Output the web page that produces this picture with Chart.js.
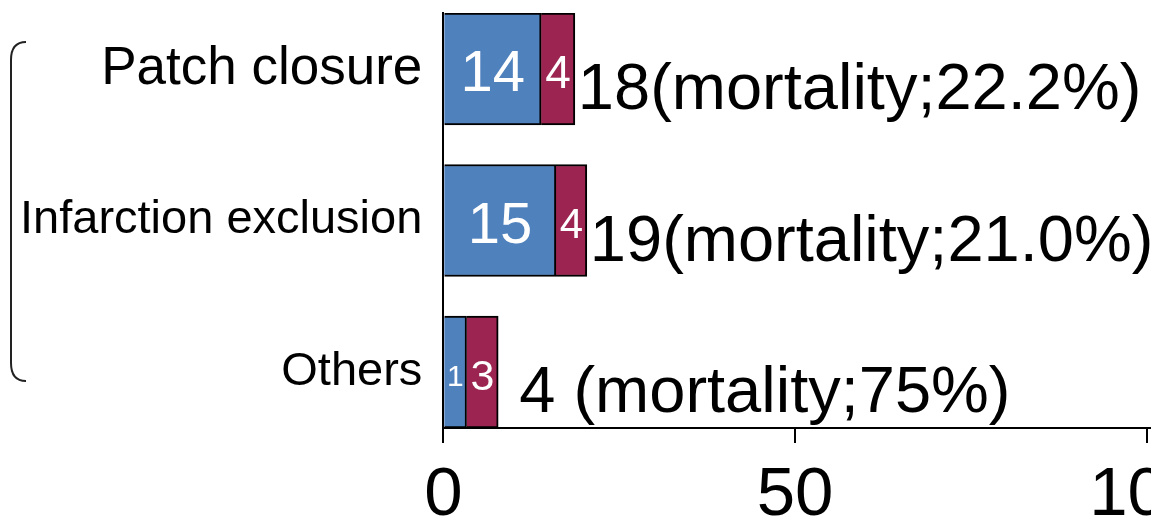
<!DOCTYPE html>
<html>
<head>
<meta charset="utf-8">
<script src="https://cdn.jsdelivr.net/npm/chart.js@4/dist/chart.umd.min.js"></script>
<style>
  html, body { margin: 0; padding: 0; background: #fff; }
  #wrap { width: 1151px; height: 521px; position: relative; }
</style>
</head>
<body>
<div id="wrap"><canvas id="chart"></canvas></div>
<script>
// Rows of the figure, top to bottom
const categories = ['Patch closure', 'Infarction exclusion', 'Others'];

// Counts printed inside the bars
const survivedCounts = [14, 15, 1];
const diedCounts = [4, 4, 3];
const totalLabels = ['18(mortality;22.2%)', '19(mortality;21.0%)', ' 4 (mortality;75%)'];

// Bar lengths as drawn against the 0-100 axis (the figure widens the small bars)
const survivedLengths = [13.9, 16.0, 3.3];
const diedLengths = [4.8, 4.4, 4.5];

const xTicks = [0, 50, 100];

const FONT = "'Liberation Sans', Arial, sans-serif";
const BLUE = '#4F81BD';
const RED = '#9B2451';

// Puts the counts inside the bars and the totals after them
const barLabels = {
  id: 'barLabels',
  afterDatasetsDraw(chart) {
    const ctx = chart.ctx;
    ctx.save();
    ctx.fillStyle = '#fff';
    ctx.textAlign = 'center';
    ctx.textBaseline = 'middle';
    chart.data.datasets.forEach((ds, di) => {
      const meta = chart.getDatasetMeta(di);
      meta.data.forEach((bar, i) => {
        const w = Math.abs(bar.x - bar.base);
        const size = Math.min(58, Math.round(w * 1.35));
        ctx.font = size + 'px ' + FONT;
        ctx.fillText(String(ds.counts[i]), (bar.x + bar.base) / 2, bar.y + 6);
      });
    });
    // totals after the red bars
    const last = chart.getDatasetMeta(1);
    ctx.fillStyle = '#000';
    ctx.textAlign = 'left';
    ctx.textBaseline = 'alphabetic';
    ctx.font = '65px ' + FONT;
    last.data.forEach((bar, i) => {
      ctx.fillText(totalLabels[i], bar.x + 3, bar.y + 40);
    });
    ctx.restore();
  }
};

// Left bracket grouping the three rows
const bracket = {
  id: 'bracket',
  afterDraw(chart) {
    const ys = chart.scales.y;
    const top = ys.getPixelForValue(0) - 27;
    const bottom = ys.getPixelForValue(categories.length - 1) + 9;
    const x0 = 11, x1 = 26;
    const ctx = chart.ctx;
    ctx.save();
    ctx.strokeStyle = '#222';
    ctx.lineWidth = 2;
    ctx.beginPath();
    ctx.moveTo(x1, top);
    ctx.quadraticCurveTo(x0, top, x0, top + 18);
    ctx.lineTo(x0, bottom - 18);
    ctx.quadraticCurveTo(x0, bottom, x1, bottom);
    ctx.stroke();
    ctx.restore();
  }
};

// let the tick labels run off the canvas edge like in the cropped figure
const noEdgePadding = (scale) => {
  scale.paddingLeft = 0;
  scale.paddingRight = 0;
  scale.paddingTop = 0;
  scale.paddingBottom = 0;
};

new Chart(document.getElementById('chart'), {
  type: 'bar',
  data: {
    datasets: [
      {
        label: 'Survived',
        data: survivedLengths.map((v, i) => ({ x: v, y: i })),
        counts: survivedCounts,
        backgroundColor: BLUE,
        borderColor: '#000',
        borderWidth: 2,
        barThickness: 112
      },
      {
        label: 'Died',
        data: diedLengths.map((v, i) => ({ x: v, y: i })),
        counts: diedCounts,
        backgroundColor: RED,
        borderColor: '#000',
        borderWidth: 2,
        barThickness: 112
      }
    ]
  },
  options: {
    indexAxis: 'y',
    responsive: true,
    maintainAspectRatio: false,
    animation: false,
    layout: {
      autoPadding: false,
      padding: { left: 7, top: 13, right: 0, bottom: 0 }
    },
    plugins: {
      legend: { display: false },
      tooltip: { enabled: false }
    },
    scales: {
      x: {
        type: 'linear',
        bounds: 'data',
        stacked: true,
        min: 0,
        max: 100.6,
        afterBuildTicks: (scale) => { scale.ticks = xTicks.map(v => ({ value: v })); },
        afterFit: (scale) => {
          noEdgePadding(scale);
          scale.height = 93; // labels are cut by the bottom edge in the figure
        },
        ticks: {
          includeBounds: false,
          color: '#000',
          padding: 12,
          maxRotation: 0,
          font: { family: FONT, size: 69 }
        },
        grid: {
          drawOnChartArea: false,
          drawTicks: true,
          tickLength: 15,
          color: '#000',
          lineWidth: 2
        },
        border: { display: true, color: '#000', width: 2 }
      },
      y: {
        type: 'linear',
        bounds: 'data',
        offset: false,
        stacked: true,
        reverse: true,
        min: -0.37,
        max: categories.length - 1 + 0.37,
        afterBuildTicks: (scale) => { scale.ticks = categories.map((c, i) => ({ value: i })); },
        afterFit: noEdgePadding,
        ticks: {
          includeBounds: false,
          color: '#000',
          padding: 13,
          callback: (v) => categories[v] ?? '',
          font: (c) => ({ family: FONT, size: c.index === 0 ? 53 : 47 })
        },
        grid: { display: false, offset: false },
        border: { display: true, color: '#000', width: 2 }
      }
    }
  },
  plugins: [barLabels, bracket]
});
</script>
</body>
</html>
